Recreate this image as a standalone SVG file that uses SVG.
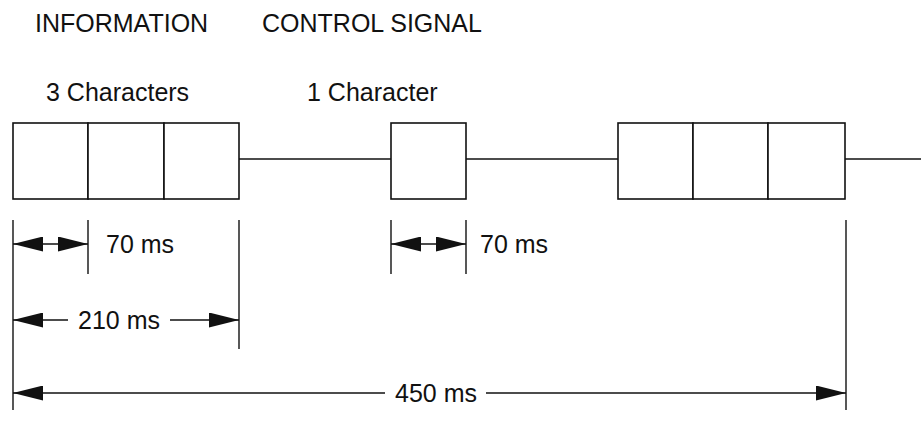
<svg xmlns="http://www.w3.org/2000/svg" width="921" height="426" viewBox="0 0 921 426">
<style>
.box{fill:#fff;stroke:#111;stroke-width:1.6}
.ln{stroke:#111;stroke-width:1.4;fill:none}
.t{font-family:"Liberation Sans",Arial,sans-serif;font-size:25px;fill:#111}
</style>
<defs>
<marker id="ah" viewBox="0 0 30 15" refX="30" refY="7.5" markerWidth="30" markerHeight="15" markerUnits="userSpaceOnUse" orient="auto-start-reverse">
<path d="M0,0 L30,7.5 L0,15 Z" fill="#111"/>
</marker>
</defs>
<rect width="921" height="426" fill="#fff"/>
<g id="labels">
<text class="t" x="35" y="32">INFORMATION</text>
<text class="t" x="262" y="32">CONTROL SIGNAL</text>
<text class="t" x="46" y="101">3 Characters</text>
<text class="t" x="307" y="101">1 Character</text>
</g>
<g id="connectors">
<line class="ln" x1="239" y1="159" x2="391" y2="159"/>
<line class="ln" x1="466" y1="159" x2="618" y2="159"/>
<line class="ln" x1="845" y1="159" x2="921" y2="159"/>
</g>
<g id="info1">
<rect class="box" x="13" y="123" width="75" height="76"/>
<rect class="box" x="88" y="123" width="76" height="76"/>
<rect class="box" x="164" y="123" width="75" height="76"/>
</g>
<g id="control">
<rect class="box" x="391" y="123" width="75" height="76"/>
</g>
<g id="info2">
<rect class="box" x="618" y="123" width="75" height="76"/>
<rect class="box" x="693" y="123" width="75" height="76"/>
<rect class="box" x="768" y="123" width="77" height="76"/>
</g>
<g id="dimensions">
<line class="ln" x1="13" y1="220" x2="13" y2="410"/>
<line class="ln" x1="88" y1="220" x2="88" y2="274"/>
<line class="ln" x1="239" y1="220" x2="239" y2="349"/>
<line class="ln" x1="391" y1="220" x2="391" y2="274"/>
<line class="ln" x1="466" y1="220" x2="466" y2="274"/>
<line class="ln" x1="846" y1="220" x2="846" y2="410"/>
<line class="ln" x1="50" y1="244" x2="13" y2="244" marker-end="url(#ah)"/>
<line class="ln" x1="50" y1="244" x2="88" y2="244" marker-end="url(#ah)"/>
<text class="t" x="106" y="253">70 ms</text>
<line class="ln" x1="428" y1="244" x2="391" y2="244" marker-end="url(#ah)"/>
<line class="ln" x1="428" y1="244" x2="466" y2="244" marker-end="url(#ah)"/>
<text class="t" x="480" y="253">70 ms</text>
<line class="ln" x1="68" y1="320" x2="13" y2="320" marker-end="url(#ah)"/>
<text class="t" x="78" y="329">210 ms</text>
<line class="ln" x1="170" y1="320" x2="239" y2="320" marker-end="url(#ah)"/>
<line class="ln" x1="385" y1="393" x2="13" y2="393" marker-end="url(#ah)"/>
<text class="t" x="395" y="402">450 ms</text>
<line class="ln" x1="486" y1="393" x2="846" y2="393" marker-end="url(#ah)"/>
</g>
</svg>
